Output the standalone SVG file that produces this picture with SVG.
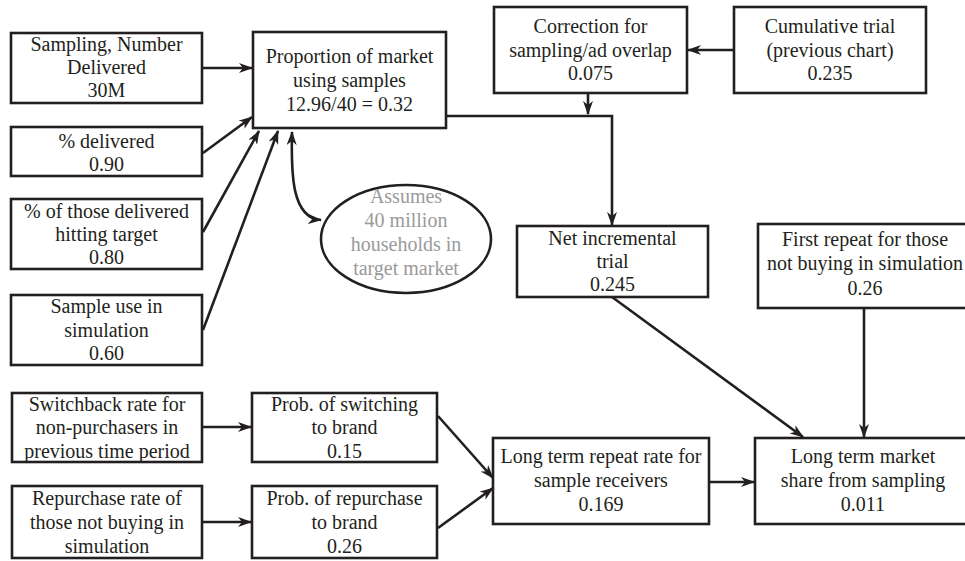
<svg xmlns="http://www.w3.org/2000/svg" width="965" height="561" viewBox="0 0 965 561">
<style>
  .box { fill: #fff; stroke: #231f20; stroke-width: 2.6; }
  .ell { fill: #fff; stroke: #231f20; stroke-width: 2.6; }
  .t { font-family: "Liberation Serif", "Times New Roman", serif; font-size: 20px; fill: #231f20; text-anchor: middle; }
  .g { fill: #9a9a9a; }
  .c { fill: none; stroke: #231f20; stroke-width: 2.6; }
</style>
<defs>
  <marker id="ah" viewBox="0 0 14 10" refX="13" refY="5" markerWidth="14" markerHeight="10" markerUnits="userSpaceOnUse" orient="auto-start-reverse">
    <path d="M0,0 L14,5 L0,10 L4,5 z" fill="#231f20"/>
  </marker>
</defs>
<rect width="965" height="561" fill="#fff"/>

<g id="connectors">
  <path class="c" d="M202,68 H252" marker-end="url(#ah)"/>
  <path class="c" d="M203,153 L252,117" marker-end="url(#ah)"/>
  <path class="c" d="M203,232 L259,131" marker-end="url(#ah)"/>
  <path class="c" d="M203,330 L278,131" marker-end="url(#ah)"/>
  <path class="c" d="M292,132 C291,175 292,218 321,220" marker-start="url(#ah)" marker-end="url(#ah)"/>
  <path class="c" d="M734,50 H688" marker-end="url(#ah)"/>
  <path class="c" d="M588,93 V114" marker-end="url(#ah)"/>
  <path class="c" d="M446,116 H612 V225" marker-end="url(#ah)"/>
  <path class="c" d="M612,297 L803,437" marker-end="url(#ah)"/>
  <path class="c" d="M864,308 V437" marker-end="url(#ah)"/>
  <path class="c" d="M709,482 H754" marker-end="url(#ah)"/>
  <path class="c" d="M202,427 H251" marker-end="url(#ah)"/>
  <path class="c" d="M202,522 H251" marker-end="url(#ah)"/>
  <path class="c" d="M438,416 L493,478" marker-end="url(#ah)"/>
  <path class="c" d="M438,528 L493,488" marker-end="url(#ah)"/>
</g>

<g id="sampling">
  <rect class="box" x="11" y="33" width="191" height="70"/>
  <text class="t" x="106.5" y="51">Sampling, Number</text>
  <text class="t" x="106.5" y="74">Delivered</text>
  <text class="t" x="106.5" y="97">30M</text>
</g>
<g id="pct-delivered">
  <rect class="box" x="11" y="127" width="191" height="49"/>
  <text class="t" x="106.5" y="148">% delivered</text>
  <text class="t" x="106.5" y="171">0.90</text>
</g>
<g id="pct-hitting">
  <rect class="box" x="11" y="199" width="191" height="70"/>
  <text class="t" x="106.5" y="218">% of those delivered</text>
  <text class="t" x="106.5" y="241">hitting target</text>
  <text class="t" x="106.5" y="264">0.80</text>
</g>
<g id="sample-use">
  <rect class="box" x="11" y="295" width="191" height="70"/>
  <text class="t" x="106.5" y="313">Sample use in</text>
  <text class="t" x="106.5" y="337">simulation</text>
  <text class="t" x="106.5" y="360">0.60</text>
</g>
<g id="proportion">
  <rect class="box" x="253" y="32" width="193" height="96"/>
  <text class="t" x="349.5" y="63">Proportion of market</text>
  <text class="t" x="349.5" y="87">using samples</text>
  <text class="t" x="349.5" y="111">12.96/40 = 0.32</text>
</g>
<g id="assumes">
  <ellipse class="ell" cx="406" cy="239" rx="85" ry="54"/>
  <text class="t g" x="406" y="203">Assumes</text>
  <text class="t g" x="406" y="227">40 million</text>
  <text class="t g" x="406" y="251">households in</text>
  <text class="t g" x="406" y="275">target market</text>
</g>
<g id="correction">
  <rect class="box" x="494" y="7" width="193" height="86"/>
  <text class="t" x="590.5" y="33">Correction for</text>
  <text class="t" x="590.5" y="57">sampling/ad overlap</text>
  <text class="t" x="590.5" y="80">0.075</text>
</g>
<g id="cumulative">
  <rect class="box" x="734" y="7" width="192" height="86"/>
  <text class="t" x="830" y="33">Cumulative trial</text>
  <text class="t" x="830" y="57">(previous chart)</text>
  <text class="t" x="830" y="80">0.235</text>
</g>
<g id="net-incremental">
  <rect class="box" x="517" y="226" width="191" height="71"/>
  <text class="t" x="612.5" y="245">Net incremental</text>
  <text class="t" x="612.5" y="268">trial</text>
  <text class="t" x="612.5" y="291">0.245</text>
</g>
<g id="first-repeat">
  <rect class="box" x="758" y="224" width="214" height="84"/>
  <text class="t" x="865" y="246">First repeat for those</text>
  <text class="t" x="865" y="270">not buying in simulation</text>
  <text class="t" x="865" y="295">0.26</text>
</g>
<g id="switchback">
  <rect class="box" x="12" y="393" width="190" height="69"/>
  <text class="t" x="107" y="411">Switchback rate for</text>
  <text class="t" x="107" y="434">non-purchasers in</text>
  <text class="t" x="107" y="458">previous time period</text>
</g>
<g id="repurchase">
  <rect class="box" x="12" y="486" width="190" height="72"/>
  <text class="t" x="107" y="505">Repurchase rate of</text>
  <text class="t" x="107" y="529">those not buying in</text>
  <text class="t" x="107" y="553">simulation</text>
</g>
<g id="prob-switching">
  <rect class="box" x="252" y="393" width="185" height="69"/>
  <text class="t" x="344.5" y="411">Prob. of switching</text>
  <text class="t" x="344.5" y="434">to brand</text>
  <text class="t" x="344.5" y="458">0.15</text>
</g>
<g id="prob-repurchase">
  <rect class="box" x="252" y="486" width="185" height="72"/>
  <text class="t" x="344.5" y="505">Prob. of repurchase</text>
  <text class="t" x="344.5" y="529">to brand</text>
  <text class="t" x="344.5" y="553">0.26</text>
</g>
<g id="long-term-repeat">
  <rect class="box" x="493" y="438" width="216" height="86"/>
  <text class="t" x="601" y="463">Long term repeat rate for</text>
  <text class="t" x="601" y="487">sample receivers</text>
  <text class="t" x="601" y="511">0.169</text>
</g>
<g id="long-term-share">
  <rect class="box" x="755" y="438" width="216" height="86"/>
  <text class="t" x="863" y="463">Long term market</text>
  <text class="t" x="863" y="487">share from sampling</text>
  <text class="t" x="863" y="511">0.011</text>
</g>
</svg>
